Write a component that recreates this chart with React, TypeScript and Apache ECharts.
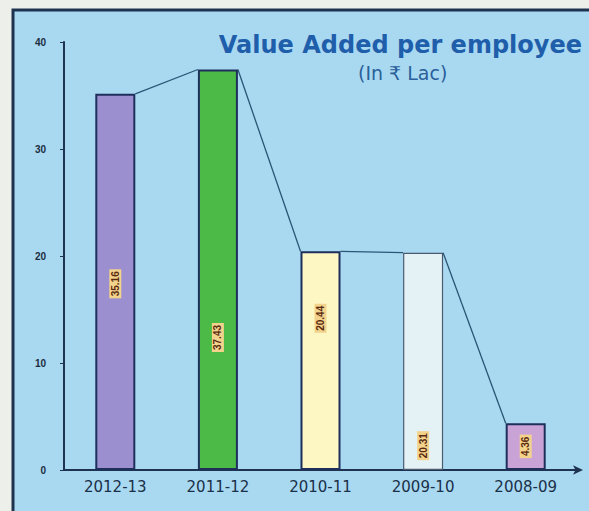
import React, { useEffect, useRef } from "react";
import * as echarts from "echarts";

const categories = ["2012-13", "2011-12", "2010-11", "2009-10", "2008-09"];
const values = [35.16, 37.43, 20.44, 20.31, 4.36];
const yTicks = [0, 10, 20, 30, 40];
const titleText = "Value Added per employee";
const subtitleText = "(In ₹ Lac)";

const barColors = ["#9c8fcf", "#4cba47", "#fdf7c4", "#e4f2f6", "#caa3d6"];
const labelTopOffsets = [190, 268, 67, 193, 23];

export default function App() {
  const ref = useRef<HTMLDivElement>(null);
  useEffect(() => {
    if (!ref.current) return;
    const chart = echarts.init(ref.current, undefined, { renderer: "svg" });
    const barData = values.map((v, i) => ({
      value: v,
      itemStyle: {
        color: barColors[i],
        borderColor: i === 3 ? "#4a5a70" : "#1e2f5c",
        borderWidth: i === 3 ? 1.2 : 2,
      },
      label: { position: ["50%", labelTopOffsets[i]] as any },
    }));
    const barRatio = 0.39;
    chart.setOption({
      animation: false,
      backgroundColor: "#edf0ea",
      graphic: [
        {
          type: "rect",
          z: -10,
          shape: { x: 13, y: 10, width: 600, height: 520 },
          style: { fill: "#a9d9f1", stroke: "#1e3350", lineWidth: 3 },
        },
        {
          type: "text",
          right: 7,
          top: 33,
          style: {
            text: titleText,
            fill: "#1f5eaa",
            font: "bold 24px 'DejaVu Sans', sans-serif",
          },
        },
        {
          type: "text",
          left: 358,
          top: 63,
          style: {
            text: subtitleText,
            fill: "#2a5f9a",
            font: "19px 'DejaVu Sans', 'Noto Sans', sans-serif",
          },
        },
      ],
      grid: { left: 64, right: 12, top: 42, bottom: 41, containLabel: false },
      xAxis: {
        type: "category",
        data: categories,
        axisTick: { show: false },
        axisLine: {
          lineStyle: { color: "#1e3350", width: 2 },
          symbol: ["none", "arrow"],
          symbolSize: [7, 10],
          symbolOffset: [0, 6],
        },
        axisLabel: {
          color: "#1a3048",
          fontSize: 15,
          fontFamily: "'DejaVu Sans', sans-serif",
          margin: 9,
        },
      },
      yAxis: {
        type: "value",
        min: 0,
        max: 40,
        interval: 10,
        splitLine: { show: false },
        axisLine: { show: true, lineStyle: { color: "#1e3350", width: 2 } },
        axisTick: { show: true, length: 4, lineStyle: { color: "#1e3350" } },
        axisLabel: {
          color: "#1d2d40",
          fontSize: 10,
          fontWeight: "bold",
          margin: 18,
          formatter: (v: number) => (yTicks.includes(v) ? String(v) : ""),
        },
      },
      series: [
        {
          type: "bar",
          data: barData,
          barWidth: barRatio * 100 + "%",
          label: {
            show: true,
            rotate: 90,
            align: "center",
            verticalAlign: "middle",
            fontSize: 10,
            fontWeight: "bold",
            color: "#5a2a10",
            backgroundColor: "#f3d38c",
            padding: [1, 2],
            formatter: (p: any) => p.value.toFixed(2),
          },
        },
        {
          type: "custom",
          data: values.map((v, i) => [i, v]),
          z: 1,
          renderItem: (params: any, api: any) => {
            const i = api.value(0);
            if (i >= values.length - 1) return null;
            const p1 = api.coord([i, values[i]]);
            const p2 = api.coord([i + 1, values[i + 1]]);
            const bw = api.size([1, 0])[0] * barRatio;
            return {
              type: "line",
              shape: { x1: p1[0] + bw / 2, y1: p1[1], x2: p2[0] - bw / 2, y2: p2[1] },
              style: { stroke: "#2a5575", lineWidth: 1.3 },
            };
          },
        },
      ],
    });
    return () => chart.dispose();
  }, []);
  return (
    <div
      ref={ref}
      style={{ position: "fixed", left: 0, top: 0, width: 589, height: 511 }}
    />
  );
}
